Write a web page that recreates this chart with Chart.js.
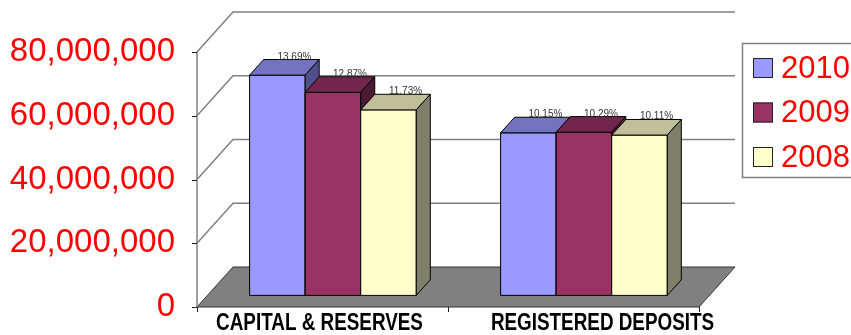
<!DOCTYPE html>
<html>
<head>
<meta charset="utf-8">
<script src="https://cdn.jsdelivr.net/npm/chart.js@4.4.0/dist/chart.umd.min.js"></script>
<style>
  html, body { margin: 0; padding: 0; background: #fff; overflow: hidden; }
</style>
</head>
<body>
<canvas id="chart" width="851" height="335"></canvas>
<script>
const categories = ["CAPITAL & RESERVES", "REGISTERED DEPOSITS"];
const years = ["2010", "2009", "2008"];
const values2010 = [69100000, 51000000];
const values2009 = [63700000, 51200000];
const values2008 = [58200000, 50300000];
const pct2010 = ["13.69%", "10.15%"];
const pct2009 = ["12.87%", "10.29%"];
const pct2008 = ["11.73%", "10.11%"];
const yTicks = [0, 20000000, 40000000, 60000000, 80000000];

const FONT = "'Liberation Sans', Arial, sans-serif";
// 3d look: back wall offset and where the bars sit in depth
const DX = 36, DY = -40;
const FRONT = 0.29, BACK = 0.68;
const labelNudge = [-3, 29];

// front, top, side colours per series
const shades = [
  ["#9999ff", "#7373c0", "#4f4f8c"],
  ["#993366", "#73264d", "#4d1a33"],
  ["#ffffcc", "#bfbf99", "#80806a"],
];

function poly(ctx, pts, fill) {
  ctx.beginPath();
  ctx.moveTo(pts[0][0], pts[0][1]);
  for (let i = 1; i < pts.length; i++) ctx.lineTo(pts[i][0], pts[i][1]);
  ctx.closePath();
  ctx.fillStyle = fill;
  ctx.fill();
  ctx.stroke();
}

const frame3d = {
  id: "frame3d",
  beforeDatasetsDraw(chart) {
    const ctx = chart.ctx;
    const a = chart.chartArea;
    const y = chart.scales.y;
    ctx.save();
    // floor
    ctx.strokeStyle = "#333";
    ctx.lineWidth = 1;
    poly(ctx, [[a.left, a.bottom], [a.right, a.bottom], [a.right + DX, a.bottom + DY], [a.left + DX, a.bottom + DY]], "#808080");
    // side wall + back wall gridlines
    ctx.strokeStyle = "#808080";
    ctx.lineWidth = 1.5;
    yTicks.forEach((v) => {
      if (v === 0) return;
      const py = y.getPixelForValue(v);
      ctx.beginPath();
      ctx.moveTo(a.left, py);
      ctx.lineTo(a.left + DX, py + DY);
      ctx.lineTo(a.right + DX, py + DY);
      ctx.stroke();
    });
    // front value axis
    ctx.beginPath();
    ctx.moveTo(a.left, y.getPixelForValue(80000000));
    ctx.lineTo(a.left, a.bottom);
    ctx.stroke();
    ctx.strokeStyle = "#222";
    ctx.lineWidth = 1;
    yTicks.forEach((v) => {
      const py = Math.round(y.getPixelForValue(v)) + 0.5;
      ctx.beginPath();
      ctx.moveTo(a.left - 5, py);
      ctx.lineTo(a.left, py);
      ctx.stroke();
    });
    // category axis ticks
    const step = (a.right - a.left) / categories.length;
    for (let i = 0; i <= categories.length; i++) {
      const px = Math.round(a.left + i * step) + 0.5;
      ctx.beginPath();
      ctx.moveTo(px, a.bottom);
      ctx.lineTo(px, a.bottom + 5);
      ctx.stroke();
    }
    ctx.restore();
  },
  beforeDatasetDraw() {
    return false;
  },
  afterDatasetsDraw(chart) {
    const ctx = chart.ctx;
    const ox = DX * FRONT, oy = DY * FRONT;
    const bx = DX * (BACK - FRONT), by = DY * (BACK - FRONT);
    const bars = [];
    chart.data.datasets.forEach((ds, di) => {
      chart.getDatasetMeta(di).data.forEach((el, i) => {
        const p = el.getProps(["x", "y", "base", "width"], true);
        bars.push({ p, di, label: ds.pct[i] });
      });
    });
    bars.sort((a, b) => a.p.x - b.p.x);
    ctx.save();
    ctx.strokeStyle = "#000";
    ctx.lineWidth = 1;
    ctx.lineJoin = "round";
    bars.forEach(({ p, di }) => {
      const l = p.x - p.width / 2 + ox, r = p.x + p.width / 2 + ox;
      const t = p.y + oy, b = p.base + oy;
      const c = shades[di];
      poly(ctx, [[l, t], [r, t], [r, b], [l, b]], c[0]);
      poly(ctx, [[l, t], [r, t], [r + bx, t + by], [l + bx, t + by]], c[1]);
      poly(ctx, [[r, t], [r + bx, t + by], [r + bx, b + by], [r, b]], c[2]);
    });
    ctx.font = "10px " + FONT;
    ctx.fillStyle = "#333";
    ctx.textAlign = "center";
    ctx.textBaseline = "alphabetic";
    bars.forEach(({ p, label }) => {
      ctx.fillText(label, p.x + ox + bx + 3, p.y + oy + by);
    });
    ctx.restore();
  },
  afterDraw(chart) {
    const ctx = chart.ctx;
    const x = chart.scales.x;
    ctx.save();
    // category labels (narrow bold)
    ctx.fillStyle = "#000";
    ctx.font = "bold 23px " + FONT;
    ctx.textAlign = "center";
    ctx.textBaseline = "alphabetic";
    categories.forEach((c, i) => {
      ctx.save();
      ctx.translate(x.getPixelForValue(i) + labelNudge[i], 330);
      ctx.scale(0.82, 1);
      ctx.fillText(c, 0, 0);
      ctx.restore();
    });
    // legend
    ctx.strokeStyle = "#808080";
    ctx.lineWidth = 1.5;
    ctx.strokeRect(742.5, 43.5, 140, 134);
    ctx.font = "31px " + FONT;
    ctx.textAlign = "left";
    ctx.textBaseline = "middle";
    chart.data.datasets.forEach((ds, i) => {
      const top = 58 + i * 44.5;
      ctx.fillStyle = ds.backgroundColor;
      ctx.fillRect(753, top, 20, 20);
      ctx.strokeStyle = "#222";
      ctx.lineWidth = 1;
      ctx.strokeRect(753.5, top + 0.5, 19, 19);
      ctx.fillStyle = "#ff0000";
      ctx.fillText(ds.label, 781, top + 11);
    });
    ctx.restore();
  },
};

new Chart(document.getElementById("chart"), {
  type: "bar",
  data: {
    labels: categories,
    datasets: [
      { label: years[0], data: values2010, pct: pct2010, backgroundColor: shades[0][0] },
      { label: years[1], data: values2009, pct: pct2009, backgroundColor: shades[1][0] },
      { label: years[2], data: values2008, pct: pct2008, backgroundColor: shades[2][0] },
    ],
  },
  options: {
    responsive: false,
    devicePixelRatio: 1,
    animation: false,
    layout: { padding: { left: 0, right: 152, top: 52, bottom: 0 } },
    plugins: { legend: { display: false }, tooltip: { enabled: false } },
    datasets: { bar: { barPercentage: 1, categoryPercentage: 0.664 } },
    scales: {
      x: {
        grid: { display: false },
        border: { display: false },
        ticks: { display: false },
        afterFit: (s) => {
          s.height = 28;
          s.paddingLeft = 0;
          s.paddingRight = 0;
        },
      },
      y: {
        min: 0,
        max: 80000000,
        grid: { display: false, tickLength: 0 },
        border: { display: false },
        ticks: {
          stepSize: 20000000,
          padding: 22,
          color: "#ff0000",
          font: { family: FONT, size: 33 },
          callback: (v) => v.toLocaleString("en-US"),
        },
        afterFit: (s) => {
          s.width = 197;
          s.paddingTop = 0;
          s.paddingBottom = 0;
        },
      },
    },
  },
  plugins: [frame3d],
});
</script>
</body>
</html>
